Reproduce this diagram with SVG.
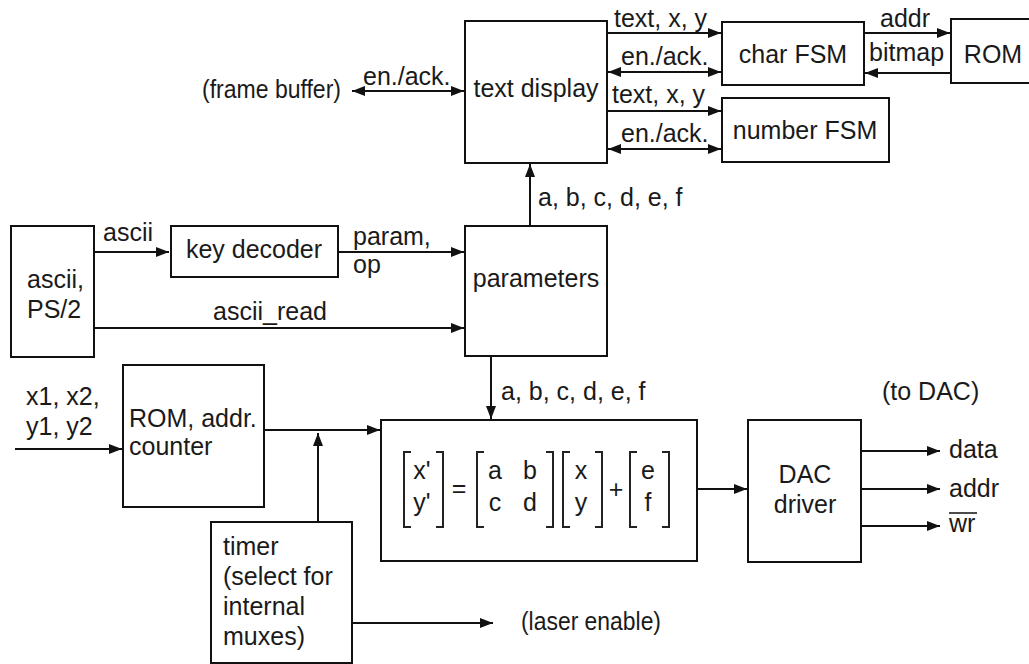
<svg xmlns="http://www.w3.org/2000/svg" width="1029" height="664" viewBox="0 0 1029 664">
<style>
.box{fill:#fff;stroke:#111;stroke-width:2}
.ln{fill:none;stroke:#111;stroke-width:2}
.br{fill:none;stroke:#222;stroke-width:2}
text{font-family:"Liberation Sans",Arial,sans-serif;font-size:25px;fill:#1a1a1a}
.m{text-anchor:middle}
</style>
<defs>
<marker id="ah" markerUnits="userSpaceOnUse" markerWidth="13" markerHeight="10" refX="13" refY="5" orient="auto-start-reverse">
<path d="M0,0 L13,5 L0,10 z" fill="#111"/>
</marker>
</defs>
<rect width="1029" height="664" fill="#fff"/>

<g id="connectors">
<line class="ln" x1="352" y1="91" x2="464" y2="91" marker-start="url(#ah)" marker-end="url(#ah)"/>
<line class="ln" x1="607" y1="33" x2="721" y2="33" marker-end="url(#ah)"/>
<line class="ln" x1="608" y1="72" x2="721" y2="72" marker-start="url(#ah)" marker-end="url(#ah)"/>
<line class="ln" x1="607" y1="111" x2="721" y2="111" marker-end="url(#ah)"/>
<line class="ln" x1="608" y1="149" x2="721" y2="149" marker-start="url(#ah)" marker-end="url(#ah)"/>
<line class="ln" x1="864" y1="33" x2="950" y2="33" marker-end="url(#ah)"/>
<line class="ln" x1="951" y1="73" x2="865" y2="73" marker-end="url(#ah)"/>
<line class="ln" x1="530" y1="226" x2="530" y2="164" marker-end="url(#ah)"/>
<line class="ln" x1="94" y1="252" x2="169" y2="252" marker-end="url(#ah)"/>
<line class="ln" x1="338" y1="252" x2="464" y2="252" marker-end="url(#ah)"/>
<line class="ln" x1="94" y1="328" x2="464" y2="328" marker-end="url(#ah)"/>
<line class="ln" x1="491" y1="356" x2="491" y2="419" marker-end="url(#ah)"/>
<line class="ln" x1="15" y1="449" x2="122" y2="449" marker-end="url(#ah)"/>
<line class="ln" x1="264" y1="430" x2="380" y2="430" marker-end="url(#ah)"/>
<line class="ln" x1="318" y1="522" x2="318" y2="433" marker-end="url(#ah)"/>
<line class="ln" x1="697" y1="489" x2="747" y2="489" marker-end="url(#ah)"/>
<line class="ln" x1="861" y1="451" x2="940" y2="451" marker-end="url(#ah)"/>
<line class="ln" x1="861" y1="489" x2="940" y2="489" marker-end="url(#ah)"/>
<line class="ln" x1="861" y1="526" x2="940" y2="526" marker-end="url(#ah)"/>
<line class="ln" x1="352" y1="623" x2="493" y2="623" marker-end="url(#ah)"/>
<text x="202" y="98" textLength="139" lengthAdjust="spacingAndGlyphs">(frame buffer)</text>
<text x="363" y="85">en./ack.</text>
<text x="614" y="27">text, x, y</text>
<text x="621" y="65">en./ack.</text>
<text x="612" y="103">text, x, y</text>
<text x="621" y="142">en./ack.</text>
<text x="880" y="27">addr</text>
<text x="869" y="61">bitmap</text>
<text x="538" y="206">a, b, c, d, e, f</text>
<text x="103" y="241">ascii</text>
<text x="353" y="245">param,</text>
<text x="353" y="273">op</text>
<text x="213" y="320">ascii_read</text>
<text x="501" y="400">a, b, c, d, e, f</text>
<text x="26" y="405">x1, x2,</text>
<text x="26" y="435">y1, y2</text>
<text x="882" y="400">(to DAC)</text>
<text x="949" y="458">data</text>
<text x="949" y="497">addr</text>
<text x="949" y="532">wr</text>
<line x1="949" y1="513" x2="977" y2="513" stroke="#111" stroke-width="1.5"/>
<text x="521" y="630" textLength="140" lengthAdjust="spacingAndGlyphs">(laser enable)</text>
</g>

<g id="text-display">
<rect class="box" x="465" y="21" width="142" height="142"/>
<text class="m" x="536" y="97">text display</text>
</g>
<g id="char-fsm">
<rect class="box" x="722" y="22" width="142" height="63"/>
<text class="m" x="793" y="63">char FSM</text>
</g>
<g id="rom">
<rect class="box" x="951" y="19" width="82" height="64"/>
<text class="m" x="993" y="63">ROM</text>
</g>
<g id="number-fsm">
<rect class="box" x="722" y="98" width="167" height="64"/>
<text class="m" x="805" y="139">number FSM</text>
</g>
<g id="ascii-ps2">
<rect class="box" x="11" y="226" width="83" height="131"/>
<text x="27" y="288">ascii,</text>
<text x="27" y="318">PS/2</text>
</g>
<g id="key-decoder">
<rect class="box" x="171" y="226" width="167" height="51"/>
<text class="m" x="254" y="258">key decoder</text>
</g>
<g id="parameters">
<rect class="box" x="465" y="226" width="142" height="130"/>
<text class="m" x="536" y="287">parameters</text>
</g>
<g id="rom-addr-counter">
<rect class="box" x="123" y="365" width="141" height="142"/>
<text x="129" y="427">ROM, addr.</text>
<text x="129" y="455">counter</text>
</g>
<g id="matrix">
<rect class="box" x="381" y="420" width="316" height="141"/>
<path class="br" d="M411,452 H404 V527 H411 M436,452 H443 V527 H436"/>
<path class="br" d="M484,452 H477 V527 H484 M546,452 H553 V527 H546"/>
<path class="br" d="M570,452 H563 V527 H570 M595,452 H602 V527 H595"/>
<path class="br" d="M637,452 H630 V527 H637 M662,452 H669 V527 H662"/>
<text class="m" x="422" y="479">x'</text>
<text class="m" x="422" y="511">y'</text>
<text class="m" x="459" y="497">=</text>
<text class="m" x="495" y="479">a</text>
<text class="m" x="530" y="479">b</text>
<text class="m" x="495" y="511">c</text>
<text class="m" x="530" y="511">d</text>
<text class="m" x="581" y="479">x</text>
<text class="m" x="581" y="511">y</text>
<text class="m" x="616" y="498">+</text>
<text class="m" x="648" y="479">e</text>
<text class="m" x="648" y="511">f</text>
</g>
<g id="dac-driver">
<rect class="box" x="748" y="420" width="113" height="142"/>
<text class="m" x="805" y="483">DAC</text>
<text class="m" x="805" y="513">driver</text>
</g>
<g id="timer">
<rect class="box" x="211" y="522" width="141" height="141"/>
<text x="223" y="555">timer</text>
<text x="223" y="585">(select for</text>
<text x="223" y="615">internal</text>
<text x="223" y="645">muxes)</text>
</g>
</svg>
